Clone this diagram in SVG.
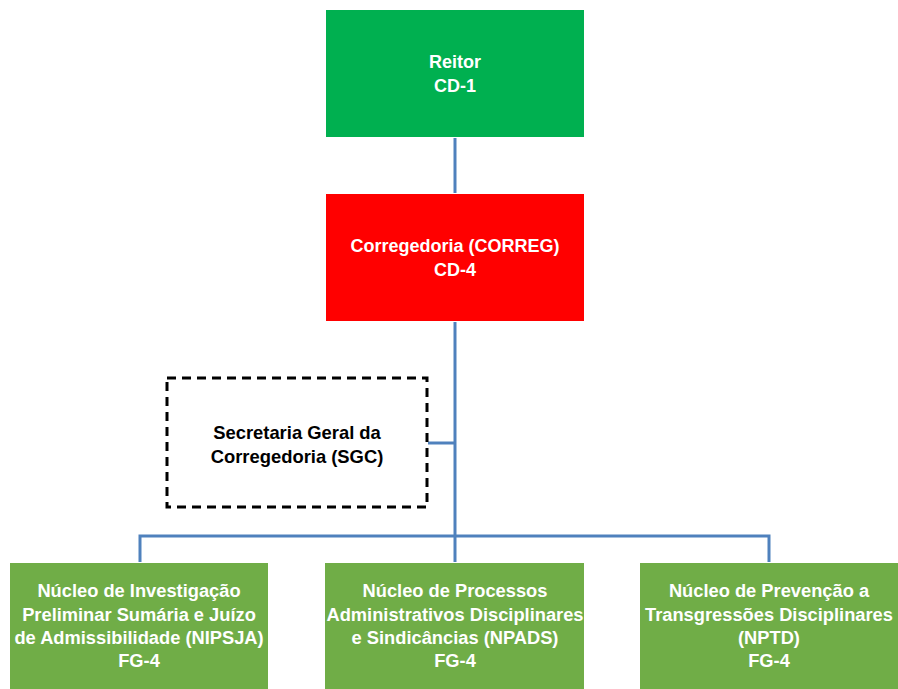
<svg xmlns="http://www.w3.org/2000/svg" width="898" height="689" viewBox="0 0 898 689">
  <style>
    .lbl { font-family: "Liberation Sans", Arial, sans-serif; font-weight: bold; font-size: 18px; text-anchor: middle; fill: #ffffff; }
    .dark { fill: #000000; font-size: 18.4px; }
    .sub { font-size: 18.3px; }
    .conn { stroke: #4F81BD; stroke-width: 3; fill: none; }
  </style>
  <rect width="898" height="689" fill="#ffffff"/>

  <!-- connectors -->
  <g id="connectors">
    <line class="conn" x1="455" y1="138" x2="455" y2="193"/>
    <line class="conn" x1="455" y1="322" x2="455" y2="562"/>
    <line class="conn" x1="428" y1="443" x2="455" y2="443"/>
    <polyline class="conn" points="140,562 140,536 769,536 769,562"/>
  </g>

  <g id="reitor">
    <rect x="326" y="10" width="258" height="127" fill="#00B050"/>
    <text class="lbl" x="455" y="68">Reitor</text>
    <text class="lbl" x="455" y="92">CD-1</text>
  </g>

  <g id="correg">
    <rect x="326" y="194" width="258" height="127" fill="#FF0000"/>
    <text class="lbl" x="455" y="252">Corregedoria (CORREG)</text>
    <text class="lbl" x="455" y="276">CD-4</text>
  </g>

  <g id="sgc">
    <rect x="167" y="378" width="260" height="129" fill="#ffffff" stroke="#000000" stroke-width="3" stroke-dasharray="9,6"/>
    <text class="lbl dark" x="297" y="439">Secretaria Geral da</text>
    <text class="lbl dark" x="297" y="463">Corregedoria (SGC)</text>
  </g>

  <g id="nipsja">
    <rect x="10" y="563" width="258" height="126" fill="#70AD47"/>
    <text class="lbl sub" x="139" y="597">Núcleo de Investigação</text>
    <text class="lbl sub" x="139" y="621">Preliminar Sumária e Juízo</text>
    <text class="lbl sub" x="139" y="644">de Admissibilidade (NIPSJA)</text>
    <text class="lbl sub" x="139" y="667">FG-4</text>
  </g>

  <g id="npads">
    <rect x="325" y="563" width="259" height="126" fill="#70AD47"/>
    <text class="lbl sub" x="455" y="597">Núcleo de Processos</text>
    <text class="lbl sub" x="455" y="621">Administrativos Disciplinares</text>
    <text class="lbl sub" x="455" y="644">e Sindicâncias (NPADS)</text>
    <text class="lbl sub" x="455" y="667">FG-4</text>
  </g>

  <g id="nptd">
    <rect x="640" y="563" width="258" height="126" fill="#70AD47"/>
    <text class="lbl sub" x="769" y="597">Núcleo de Prevenção a</text>
    <text class="lbl sub" x="769" y="621">Transgressões Disciplinares</text>
    <text class="lbl sub" x="769" y="644">(NPTD)</text>
    <text class="lbl sub" x="769" y="667">FG-4</text>
  </g>
</svg>
